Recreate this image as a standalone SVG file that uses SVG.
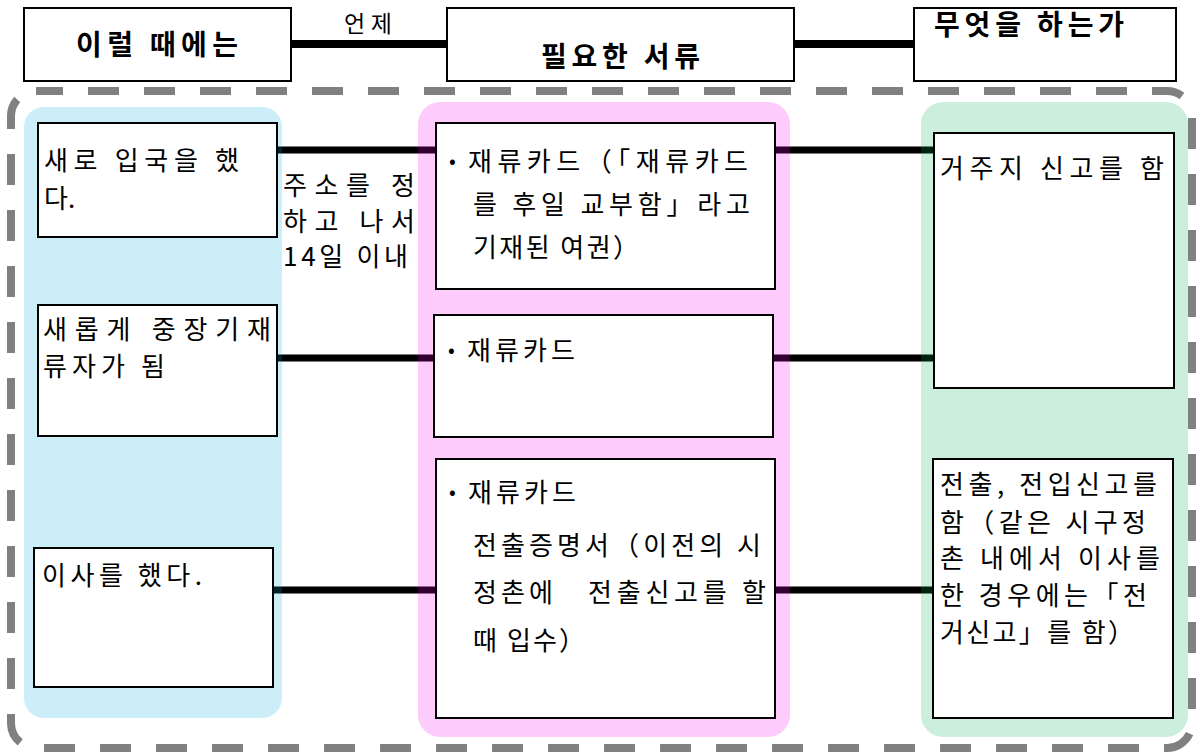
<svg xmlns="http://www.w3.org/2000/svg" width="1200" height="755" viewBox="0 0 1200 755">
<style>
.box{fill:#fff;stroke:#000;stroke-width:2}
.hdr{font-family:"Noto Sans CJK KR","Noto Sans",sans-serif;font-size:28px;font-weight:bold;fill:#000}
.t{font-family:"Noto Sans CJK KR","Noto Sans",sans-serif;font-size:26px;fill:#000}
.b{font-family:"Noto Sans CJK KR","Noto Sans",sans-serif;font-size:20px;fill:#000}
.lbl{font-family:"Noto Sans CJK KR","Noto Sans",sans-serif;font-size:23px;fill:#000}
.con{stroke:#000;stroke-width:7;fill:none}
.hcon{stroke:#000;stroke-width:8;fill:none}
</style>
<rect width="1200" height="755" fill="#fff"/>
<!-- dashed frame -->
<rect id="frame" x="11" y="91" width="1181" height="657" rx="25" fill="none" stroke="#808080" stroke-width="8" stroke-dasharray="31 25" stroke-dashoffset="4"/>
<!-- connectors -->
<g id="connectors">
  <line class="hcon" x1="291" y1="44" x2="447" y2="44"/>
  <line class="hcon" x1="794" y1="44" x2="914" y2="44"/>
  <line class="con" x1="277" y1="150" x2="436" y2="150"/>
  <line class="con" x1="775" y1="150" x2="934" y2="150"/>
  <line class="con" x1="277" y1="358" x2="434" y2="358"/>
  <line class="con" x1="773" y1="358" x2="933" y2="358"/>
  <line class="con" x1="273" y1="590" x2="436" y2="590"/>
  <line class="con" x1="775" y1="590" x2="933" y2="590"/>
  <text class="lbl" x="344" y="32" textLength="48" lengthAdjust="spacing">언제</text>
  <text class="t" x="283" y="195" textLength="132" lengthAdjust="spacing">주소를 정</text>
  <text class="t" x="283" y="231" textLength="132" lengthAdjust="spacing">하고 나서</text>
  <text class="t" x="283" y="266" textLength="125" lengthAdjust="spacing">14일 이내</text>
</g>
<!-- panels -->
<g id="panels">
  <rect id="panel-when" x="24" y="107" width="258" height="611" rx="20" fill="#00AAE1" fill-opacity="0.2"/>
  <rect id="panel-docs" x="418" y="102" width="372" height="635" rx="22" fill="#F500F5" fill-opacity="0.2"/>
  <rect id="panel-what" x="921" y="102" width="267" height="635" rx="22" fill="#00AA50" fill-opacity="0.2"/>
</g>
<!-- header nodes -->
<g id="hdr-when">
  <rect class="box" x="24" y="8" width="267" height="73"/>
  <text class="hdr" x="76" y="55" textLength="162" lengthAdjust="spacing">이럴 때에는</text>
</g>
<g id="hdr-docs">
  <rect class="box" x="447" y="8" width="347" height="73"/>
  <text class="hdr" x="541" y="67" textLength="159" lengthAdjust="spacing">필요한 서류</text>
</g>
<g id="hdr-what">
  <rect class="box" x="914" y="8" width="262" height="73"/>
  <text class="hdr" x="934" y="35" textLength="190" lengthAdjust="spacing">무엇을 하는가</text>
</g>
<!-- left nodes -->
<g id="left-1">
  <rect class="box" x="38" y="123" width="239" height="114"/>
  <text class="t" x="44" y="170" textLength="195" lengthAdjust="spacing">새로 입국을 했</text>
  <text class="t" x="44" y="208">다.</text>
</g>
<g id="left-2">
  <rect class="box" x="38" y="305" width="239" height="131"/>
  <text class="t" x="43" y="339" textLength="228" lengthAdjust="spacing">새롭게 중장기재</text>
  <text class="t" x="43" y="376" textLength="122" lengthAdjust="spacing">류자가 됨</text>
</g>
<g id="left-3">
  <rect class="box" x="34" y="548" width="239" height="139"/>
  <text class="t" x="42" y="585" textLength="160" lengthAdjust="spacing">이사를 했다.</text>
</g>
<!-- middle nodes -->
<g id="mid-1">
  <rect class="box" x="436" y="123" width="339" height="166"/>
  <text class="b" x="449" y="168">•</text>
  <text class="t" x="468" y="171" textLength="280" lengthAdjust="spacing">재류카드（「재류카드</text>
  <text class="t" x="473" y="214" textLength="277" lengthAdjust="spacing">를 후일 교부함」라고</text>
  <text class="t" x="473" y="257" textLength="166" lengthAdjust="spacing">기재된 여권）</text>
</g>
<g id="mid-2">
  <rect class="box" x="434" y="315" width="339" height="122"/>
  <text class="b" x="448" y="357">•</text>
  <text class="t" x="467" y="360" textLength="108" lengthAdjust="spacing">재류카드</text>
</g>
<g id="mid-3">
  <rect class="box" x="436" y="459" width="339" height="259"/>
  <text class="b" x="449" y="499">•</text>
  <text class="t" x="468" y="502" textLength="108" lengthAdjust="spacing">재류카드</text>
  <text class="t" x="473" y="555" textLength="288" lengthAdjust="spacing">전출증명서（이전의 시</text>
  <text class="t" x="473" y="602" textLength="80" lengthAdjust="spacing">정촌에</text>
  <text class="t" x="588" y="602" textLength="178" lengthAdjust="spacing">전출신고를 할</text>
  <text class="t" x="473" y="650" textLength="112" lengthAdjust="spacing">때 입수）</text>
</g>
<!-- right nodes -->
<g id="right-1">
  <rect class="box" x="934" y="133" width="240" height="255"/>
  <text class="t" x="940" y="178" textLength="224" lengthAdjust="spacing">거주지 신고를 함</text>
</g>
<g id="right-2">
  <rect class="box" x="933" y="459" width="240" height="259"/>
  <text class="t" x="940" y="494" textLength="217" lengthAdjust="spacing">전출, 전입신고를</text>
  <text class="t" x="940" y="532" textLength="206" lengthAdjust="spacing">함（같은 시구정</text>
  <text class="t" x="940" y="568" textLength="220" lengthAdjust="spacing">촌 내에서 이사를</text>
  <text class="t" x="940" y="605" textLength="207" lengthAdjust="spacing">한 경우에는「전</text>
  <text class="t" x="940" y="642" textLength="194" lengthAdjust="spacing">거신고」를 함）</text>
</g>
</svg>
